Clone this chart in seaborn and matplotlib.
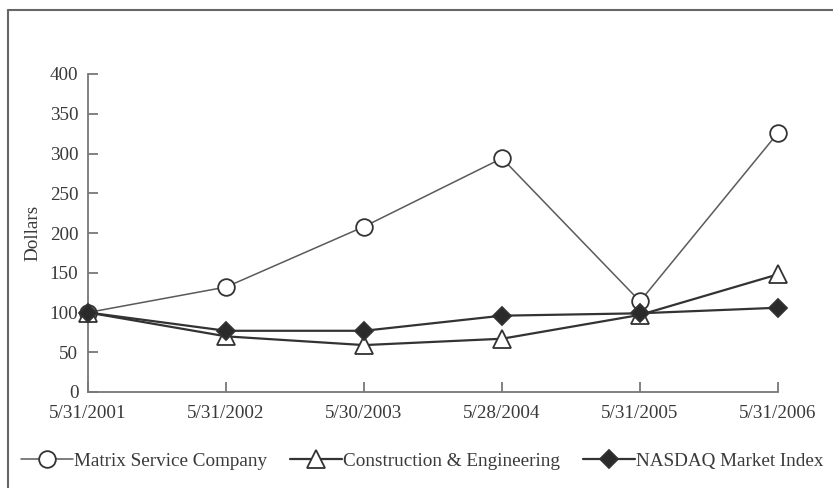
import numpy as np
import pandas as pd
import seaborn as sns
import matplotlib.pyplot as plt
from matplotlib.lines import Line2D

dates = ["5/31/2001", "5/31/2002", "5/30/2003", "5/28/2004", "5/31/2005", "5/31/2006"]
matrix = [100, 132, 208, 294, 114, 326]
construction = [100, 70, 59, 67, 97, 148]
nasdaq = [100, 77, 77, 96, 99, 106]
series_names = ["Matrix Service Company", "Construction & Engineering", "NASDAQ Market Index"]

sns.set_style("white")
plt.rcParams["font.family"] = ["Liberation Serif", "DejaVu Serif"]

ink = "#3a3a3a"
fs = 13.8

fig = plt.figure(figsize=(8.33, 4.88), dpi=100)
ax = fig.add_axes([88 / 833, 96 / 488, 690 / 833, 318 / 488])

x = np.arange(len(dates))
styles = [
    (matrix, "o", "white", 12, "#5a5a5a", 1.1),
    (construction, "^", "white", 12.5, "#333333", 1.6),
    (nasdaq, "D", "#2a2a2a", 9, "#333333", 1.6),
]
for (vals, mk, fc, ms, lc, lw), name in zip(styles, series_names):
    sns.lineplot(x=x, y=vals, ax=ax, color=lc, lw=lw, marker=mk, markersize=ms,
                 markerfacecolor=fc, markeredgecolor="#333333", markeredgewidth=1.3,
                 label=name, zorder=3, clip_on=False)

ax.set_xlim(0, 5)
ax.set_ylim(0, 400)
ax.set_yticks(range(0, 401, 50))
ax.set_xticks(x)
ax.set_xticklabels(dates)
sns.despine(ax=ax)
for s in ["left", "bottom"]:
    ax.spines[s].set_color("#777777")
    ax.spines[s].set_linewidth(1.3)
ax.tick_params(axis="both", direction="in", length=7, width=1.3, color="#777777",
               labelsize=fs, labelcolor=ink, left=True, bottom=True)
ax.tick_params(axis="y", pad=7)
ax.tick_params(axis="x", pad=9)
ax.set_ylabel("Dollars", fontsize=fs, color=ink, labelpad=6)
ax.set_xlabel("")

ax.get_legend().remove()
handles, labels = ax.get_legend_handles_labels()
fig.legend(handles, labels, loc="center", bbox_to_anchor=(0.507, 27 / 488), ncol=3,
           frameon=False, fontsize=fs, labelcolor=ink, handlelength=2.7,
           handletextpad=0.05, columnspacing=1.2)

# frame lines on left and top of the image
fig.add_artist(Line2D([8 / 833, 8 / 833], [0, 1 - 10 / 488], transform=fig.transFigure,
                      color="#666666", lw=1.5))
fig.add_artist(Line2D([8 / 833, 1], [1 - 10 / 488, 1 - 10 / 488], transform=fig.transFigure,
                      color="#666666", lw=1.5))

fig.savefig("out.png", dpi=100)
